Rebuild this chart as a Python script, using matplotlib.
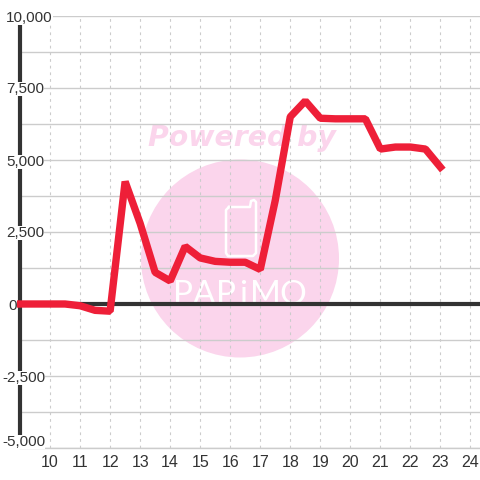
# -*- coding: utf-8 -*-
import matplotlib

matplotlib.use("Agg")
import matplotlib.pyplot as plt
from matplotlib.patches import Circle

plt.rcParams["font.family"] = ["Liberation Sans", "DejaVu Sans"]

HOURS = [9, 9.5, 10, 10.5, 11, 11.5, 12, 12.5, 13, 13.5, 14, 14.5, 15, 15.5, 16, 16.5,
         17, 17.5, 18, 18.5, 19, 19.5, 20, 20.5, 21, 21.5, 22, 22.5, 23]
VALUES = [0, 0, 0, 0, -60, -220, -250, 4250, 2800, 1100, 800, 2000, 1600, 1480, 1450, 1450,
          1200, 3600, 6500, 7050, 6450, 6430, 6430, 6430, 5380, 5450, 5450, 5380, 4750]
X_TICKS = list(range(10, 25))
Y_TICKS = [10000, 7500, 5000, 2500, 0, -2500, -5000]
Y_MINOR = [8750, 6250, 3750, 1250, -1250, -3750]

DARK = "#333333"
GRID = "#cccccc"
PINK = "#fbd5ec"
RED = "#ee1f38"

fig = plt.figure(figsize=(4.8, 4.8), dpi=100, facecolor="white")

# ウォーターマークは背面の全面axesに画素座標で描く
bg = fig.add_axes([0, 0, 1, 1], zorder=0)
bg.set_xlim(0, 480)
bg.set_ylim(480, 0)
bg.axis("off")
bg.add_patch(Circle((240, 258.5), 99, color=PINK, lw=0))
bg.text(242, 146, "Powered by", fontsize=20.4, family="DejaVu Sans", weight="bold",
        style="italic", color=PINK, ha="center", va="baseline")
bg.plot([229, 250, 251, 254, 256, 256, 253, 228, 226, 226, 229],
        [207, 207, 201, 200, 202, 253, 256, 256, 253, 210, 207],
        color="white", lw=1.8, solid_joinstyle="round")
for ch, px in zip("PAPiMO", [183, 204, 226, 243, 265, 293]):
    bg.text(px, 304, ch, fontsize=24, family="Lato", color="white",
            ha="center", va="baseline")

ax = fig.add_axes([20 / 480, 32 / 480, 460 / 480, 432 / 480], zorder=1)
ax.patch.set_alpha(0)
ax.set_xlim(9, 24.317)
ax.set_ylim(-5000, 10000)

for s in ("top", "right"):
    ax.spines[s].set_visible(False)
ax.spines["bottom"].set_color(GRID)
ax.spines["bottom"].set_linewidth(1)
ax.spines["left"].set_color(DARK)
ax.spines["left"].set_linewidth(3)
ax.spines["left"].set_bounds(-4583, 9722)

ax.set_yticks(Y_TICKS)
ax.set_yticks(Y_MINOR, minor=True)
ax.set_xticks(X_TICKS)
ax.set_yticklabels([])
ax.tick_params(axis="both", which="both", length=0)
ax.tick_params(axis="x", labelsize=11.5, labelcolor=DARK, pad=5)
ax.grid(axis="y", which="both", color=GRID, linewidth=1)
ax.grid(axis="x", which="major", color=GRID, linewidth=0.8, linestyle=(0, (2.5, 3.5)))
ax.set_axisbelow(True)
ax.axhline(0, color=DARK, linewidth=3, zorder=2)

ax.plot(HOURS, VALUES, color=RED, linewidth=5.3, solid_capstyle="projecting",
        solid_joinstyle="bevel", clip_on=False, zorder=3)

for v in Y_TICKS:
    label = f"{v:,}"
    dx = -18 if v < 0 else -14
    dy = 6 if v == -5000 else -1.5
    if v == 0:
        dx = -12
    ax.annotate(label, xy=(9, v), xytext=(dx, dy), textcoords="offset pixels",
                fontsize=11, color=DARK, ha="left", va="center", annotation_clip=False,
                zorder=4, bbox=dict(facecolor="white", edgecolor="none", pad=0))

fig.savefig("out.png", dpi=100)
